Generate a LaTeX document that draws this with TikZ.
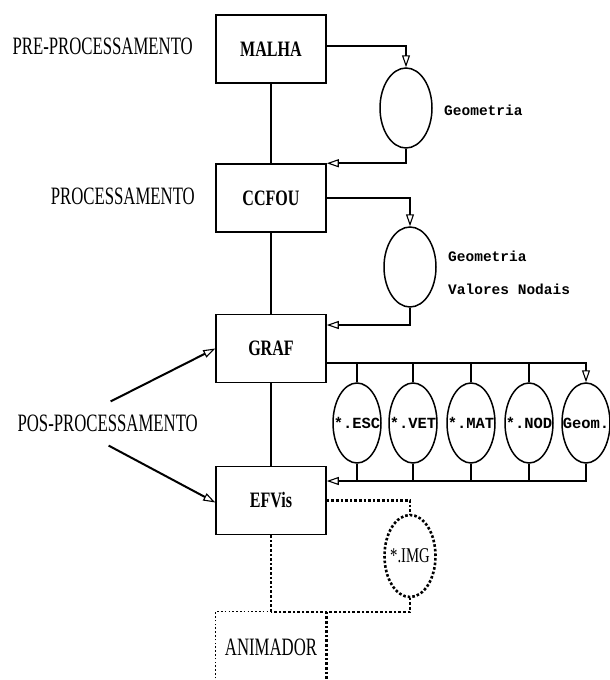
\documentclass[tikz,border=0pt]{standalone}
\usepackage{fontspec}
\usepackage{graphicx}
\setmainfont{Liberation Serif}
\setmonofont{Liberation Mono}
\usetikzlibrary{
  shapes.geometric, % For ellipses
  arrows.meta, % For arrow tips
  calc % For coordinate calculations
}
\newcommand{\condtxt}[2]{\scalebox{#1}[1]{#2}}

\begin{document}
\begin{tikzpicture}[
      x=1pt, y=-1pt, % Pixel-Koordinaten, y nach unten
      >={Triangle[open, length=12pt, width=8pt, line width=1.1pt]}, % Default arrow tip
      prog/.style={draw, line width=1.5pt, minimum width=110pt, minimum height=68pt,
        inner sep=0pt, font=\fontsize{22}{26}\selectfont\bfseries}, % Programme
      arq/.style={draw, ellipse, line width=1.5pt, minimum width=52pt,
        minimum height=80pt, inner sep=0pt}, % Dateien
      fase/.style={inner sep=0pt, font=\fontsize{25}{30}\selectfont}, % Phasen
      rotulo/.style={inner sep=0pt, font=\fontsize{14.5}{17}\selectfont\ttfamily\bfseries},
      liga/.style={line width=1.6pt}, % Verbindungen
      fluxo/.style={line width=1.6pt, ->}, % Pfeile
      pontos/.style={line width=2.6pt, dash pattern=on 2.6pt off 2pt},
      pontinhos/.style={line width=1pt, dash pattern=on 1.6pt off 2.2pt},
    ]

    % Rahmen
    \useasboundingbox (0,0) rectangle (610,680);

    % Programme
    \node[prog] (malha) at (271,49)    {\condtxt{0.73}{MALHA}};
    \node[prog] (ccfou) at (271,198)   {\condtxt{0.73}{CCFOU}};
    \node[prog] (graf)  at (271,348.5) {\condtxt{0.73}{GRAF}};
    \node[prog] (efvis) at (271,500.5) {\condtxt{0.73}{EFVis}};
    \node[fase, minimum width=111pt, minimum height=70pt] (anim) at (271,647)
      {\condtxt{0.67}{ANIMADOR}};

    % Phasen
    \node[fase, anchor=east] (pre)  at (193,46)  {\condtxt{0.67}{PRE-PROCESSAMENTO}};
    \node[fase, anchor=east] (proc) at (195,196) {\condtxt{0.67}{PROCESSAMENTO}};
    \node[fase, anchor=east] (pos)  at (198,423) {\condtxt{0.67}{POS-PROCESSAMENTO}};

    % Dateien
    \node[arq] (geo1) at (406,108) {};
    \node[rotulo, anchor=west] at (444,110) {Geometria};
    \node[arq] (geo2) at (410,267) {};
    \node[rotulo, anchor=west] at (448,256) {Geometria};
    \node[rotulo, anchor=west] at (448,289) {Valores Nodais};
    \foreach \nome/\x/\txt in {esc/357/*.ESC, vet/413/*.VET, mat/471/*.MAT,
        nod/529/*.NOD, geom/586/Geom.}{
      \node[arq, minimum width=48pt] (\nome) at (\x,423) {};
      \node[rotulo, font=\fontsize{15.5}{18}\selectfont\ttfamily\bfseries] at (\nome) {\txt};
    }
    \node[arq, draw=none, minimum width=51pt, minimum height=82pt] (img) at (410,556) {};
    \draw[pontos] (img) ellipse (25.5pt and 41pt);
    \node[font=\fontsize{21}{24}\selectfont] at (img) {\condtxt{0.7}{*.IMG}};

    % Hauptlinie
    \draw[liga] (malha) -- (ccfou);
    \draw[liga, line width=2pt] (ccfou) -- (graf);
    \draw[liga, line width=2.6pt] (graf) -- (efvis);

    % MALHA -> Geometria -> CCFOU
    \draw[fluxo] ([yshift=3pt]malha.east) -| (geo1.north);
    \draw[fluxo] (geo1.south) |- (ccfou.north east);

    % CCFOU -> Geometria/Valores Nodais -> GRAF
    \draw[fluxo] (ccfou.east) -| (geo2.north);
    \draw[fluxo] (geo2.south) |- ([yshift=23.5pt]graf.east);

    % GRAF -> Dateien -> EFVis
    \coordinate (bus1) at ([yshift=-14.5pt]graf.east);
    \coordinate (bus2) at ([yshift=19.5pt]efvis.east);
    \draw[fluxo] (bus1) -| (geom.north);
    \draw[fluxo] (geom.south) |- (bus2);
    \foreach \nome in {esc, vet, mat, nod}{
      \draw[liga] (\nome.north) -- (\nome.north |- bus1);
      \draw[liga] (\nome.south) -- (\nome.south |- bus2);
    }

    % EFVis -> *.IMG -> ANIMADOR
    \draw[pontos] (efvis.east) -| (img.north);
    \draw[pontos] (img.south) |- (anim.north);
    \draw[pontos] (efvis.south) -- (anim.north);
    \draw[pontos] (anim.north east) -- (anim.south east);
    \draw[pontinhos] (anim.south west) -- (anim.north west) -- (anim.north);

    % POS-PROCESSAMENTO
    \draw[fluxo, line width=2pt] ([xshift=3pt, yshift=13pt]pos.north) -- (graf.west);
    \draw[fluxo, line width=2pt] ([xshift=1pt, yshift=-14pt]pos.south) -- ([yshift=-2pt]efvis.west);

  \end{tikzpicture}
\end{document}
